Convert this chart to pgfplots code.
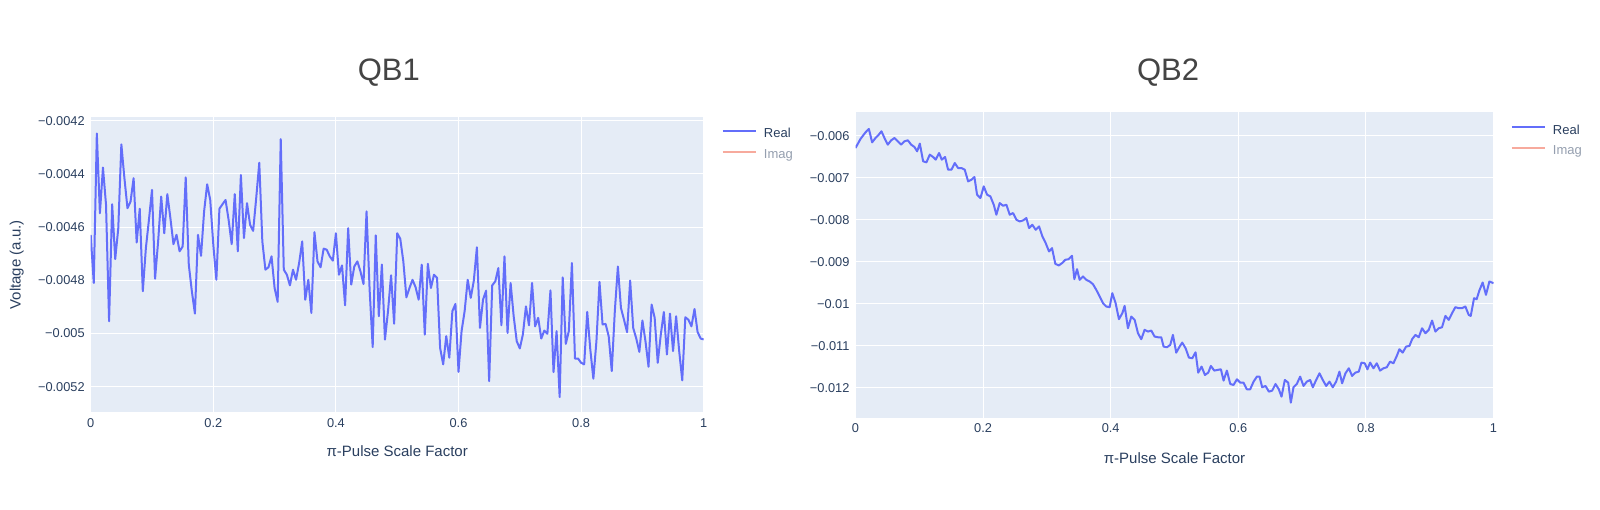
\documentclass[border=0pt]{standalone}
\usepackage{pgfplots}
\pgfplotsset{compat=1.18}
\usepackage{fontspec}
\setmainfont{Liberation Sans}

\definecolor{bgplot}{HTML}{E5ECF6}
\definecolor{realc}{HTML}{636EFA}
\definecolor{imagc}{HTML}{F7AA9D}
\definecolor{fontc}{HTML}{2A3F5F}
\definecolor{fadec}{HTML}{959FAF}
\definecolor{titlec}{HTML}{444444}

% QB1: pi-pulse scan, real part
\pgfplotstableread{
x y
0.000 -0.004629
0.005 -0.004810
0.010 -0.004248
0.015 -0.004548
0.020 -0.004376
0.025 -0.004516
0.030 -0.004954
0.035 -0.004514
0.040 -0.004720
0.045 -0.004604
0.050 -0.004289
0.055 -0.004416
0.060 -0.004529
0.065 -0.004504
0.070 -0.004416
0.075 -0.004658
0.080 -0.004531
0.085 -0.004841
0.090 -0.004679
0.095 -0.004573
0.100 -0.004460
0.105 -0.004794
0.110 -0.004654
0.115 -0.004485
0.120 -0.004623
0.125 -0.004476
0.130 -0.004566
0.135 -0.004664
0.140 -0.004629
0.145 -0.004691
0.150 -0.004673
0.155 -0.004413
0.160 -0.004741
0.165 -0.004841
0.170 -0.004925
0.175 -0.004629
0.180 -0.004708
0.185 -0.004541
0.190 -0.004439
0.195 -0.004498
0.200 -0.004666
0.205 -0.004798
0.210 -0.004531
0.215 -0.004514
0.220 -0.004498
0.225 -0.004573
0.230 -0.004664
0.235 -0.004476
0.240 -0.004691
0.245 -0.004404
0.250 -0.004641
0.255 -0.004510
0.260 -0.004591
0.265 -0.004614
0.270 -0.004491
0.275 -0.004358
0.280 -0.004654
0.285 -0.004760
0.290 -0.004751
0.295 -0.004710
0.300 -0.004829
0.305 -0.004881
0.310 -0.004269
0.315 -0.004760
0.320 -0.004779
0.325 -0.004819
0.330 -0.004760
0.335 -0.004798
0.340 -0.004735
0.345 -0.004654
0.350 -0.004873
0.355 -0.004798
0.360 -0.004923
0.365 -0.004619
0.370 -0.004729
0.375 -0.004751
0.380 -0.004681
0.385 -0.004685
0.390 -0.004710
0.395 -0.004726
0.400 -0.004623
0.405 -0.004779
0.410 -0.004744
0.415 -0.004894
0.420 -0.004604
0.425 -0.004816
0.430 -0.004748
0.435 -0.004729
0.440 -0.004766
0.445 -0.004814
0.450 -0.004541
0.455 -0.004835
0.460 -0.005051
0.465 -0.004631
0.470 -0.004935
0.475 -0.004741
0.480 -0.005023
0.485 -0.004916
0.490 -0.004781
0.495 -0.004963
0.500 -0.004623
0.505 -0.004644
0.510 -0.004729
0.515 -0.004864
0.520 -0.004829
0.525 -0.004798
0.530 -0.004826
0.535 -0.004873
0.540 -0.004741
0.545 -0.005004
0.550 -0.004738
0.555 -0.004829
0.560 -0.004779
0.565 -0.004791
0.570 -0.005054
0.575 -0.005116
0.580 -0.005010
0.585 -0.005091
0.590 -0.004916
0.595 -0.004889
0.600 -0.005144
0.605 -0.004991
0.610 -0.004916
0.615 -0.004798
0.620 -0.004866
0.625 -0.004801
0.630 -0.004676
0.635 -0.004979
0.640 -0.004873
0.645 -0.004839
0.650 -0.005179
0.655 -0.004819
0.660 -0.004804
0.665 -0.004754
0.670 -0.004969
0.675 -0.004710
0.680 -0.004998
0.685 -0.004810
0.690 -0.004935
0.695 -0.005029
0.700 -0.005056
0.705 -0.005004
0.710 -0.004898
0.715 -0.004969
0.720 -0.004810
0.725 -0.004973
0.730 -0.004941
0.735 -0.005019
0.740 -0.004989
0.745 -0.005001
0.750 -0.004838
0.755 -0.005145
0.760 -0.004991
0.765 -0.005239
0.770 -0.004789
0.775 -0.005039
0.780 -0.004991
0.785 -0.004735
0.790 -0.005094
0.795 -0.005094
0.800 -0.005110
0.805 -0.005116
0.810 -0.004919
0.815 -0.005060
0.820 -0.005170
0.825 -0.005029
0.830 -0.004806
0.835 -0.004966
0.840 -0.004964
0.845 -0.005010
0.850 -0.005141
0.855 -0.004916
0.860 -0.004748
0.865 -0.004904
0.870 -0.004948
0.875 -0.004995
0.880 -0.004801
0.885 -0.004979
0.890 -0.005019
0.895 -0.005069
0.900 -0.004951
0.905 -0.005029
0.910 -0.005125
0.915 -0.004891
0.920 -0.004941
0.925 -0.005110
0.930 -0.005004
0.935 -0.004919
0.940 -0.005079
0.945 -0.004925
0.950 -0.005066
0.955 -0.004935
0.960 -0.005066
0.965 -0.005176
0.970 -0.004939
0.975 -0.004948
0.980 -0.004973
0.985 -0.004908
0.990 -0.004994
0.995 -0.005019
1.000 -0.005022
}\qbone

% QB2: pi-pulse scan, real part
\pgfplotstableread{
x y
0.0000 -0.006294
0.0078 -0.006079
0.0157 -0.005921
0.0209 -0.005841
0.0261 -0.006159
0.0313 -0.006056
0.0365 -0.005976
0.0407 -0.005897
0.0454 -0.006056
0.0506 -0.006214
0.0559 -0.006111
0.0611 -0.006056
0.0663 -0.006135
0.0715 -0.006214
0.0767 -0.006135
0.0820 -0.006111
0.0872 -0.006214
0.0924 -0.006270
0.0966 -0.006373
0.1008 -0.006190
0.1060 -0.006611
0.1112 -0.006635
0.1164 -0.006452
0.1216 -0.006508
0.1258 -0.006571
0.1310 -0.006413
0.1352 -0.006571
0.1404 -0.006508
0.1451 -0.006810
0.1504 -0.006810
0.1556 -0.006651
0.1608 -0.006770
0.1660 -0.006770
0.1712 -0.006810
0.1765 -0.007087
0.1817 -0.007048
0.1864 -0.006984
0.1905 -0.007405
0.1958 -0.007484
0.2010 -0.007206
0.2062 -0.007405
0.2114 -0.007444
0.2167 -0.007643
0.2208 -0.007881
0.2260 -0.007603
0.2313 -0.007667
0.2365 -0.007643
0.2417 -0.007881
0.2469 -0.007841
0.2522 -0.008000
0.2574 -0.008040
0.2626 -0.008016
0.2678 -0.007960
0.2720 -0.008198
0.2772 -0.008119
0.2824 -0.008238
0.2877 -0.008159
0.2929 -0.008397
0.2981 -0.008556
0.3033 -0.008754
0.3080 -0.008675
0.3132 -0.009048
0.3185 -0.009087
0.3237 -0.009032
0.3289 -0.008952
0.3341 -0.008937
0.3393 -0.008857
0.3430 -0.009413
0.3472 -0.009175
0.3513 -0.009429
0.3566 -0.009349
0.3618 -0.009429
0.3670 -0.009468
0.3722 -0.009532
0.3774 -0.009667
0.3827 -0.009825
0.3879 -0.009984
0.3931 -0.010063
0.3983 -0.010079
0.4025 -0.009746
0.4077 -0.009984
0.4129 -0.010365
0.4182 -0.010222
0.4218 -0.010048
0.4270 -0.010580
0.4323 -0.010302
0.4375 -0.010381
0.4427 -0.010698
0.4479 -0.010841
0.4531 -0.010619
0.4584 -0.010659
0.4636 -0.010635
0.4688 -0.010778
0.4740 -0.010794
0.4792 -0.010794
0.4829 -0.011016
0.4881 -0.011032
0.4933 -0.010976
0.4975 -0.010738
0.5027 -0.011159
0.5080 -0.011016
0.5121 -0.010921
0.5174 -0.011056
0.5226 -0.011278
0.5278 -0.011294
0.5330 -0.011151
0.5372 -0.011635
0.5424 -0.011492
0.5477 -0.011691
0.5529 -0.011635
0.5570 -0.011476
0.5623 -0.011587
0.5675 -0.011571
0.5727 -0.011556
0.5769 -0.011825
0.5821 -0.011587
0.5873 -0.011905
0.5925 -0.011929
0.5978 -0.011794
0.6030 -0.011873
0.6082 -0.011873
0.6134 -0.012032
0.6186 -0.012032
0.6239 -0.011849
0.6291 -0.011730
0.6333 -0.011730
0.6374 -0.011984
0.6427 -0.011952
0.6479 -0.012087
0.6531 -0.012063
0.6583 -0.011905
0.6635 -0.012032
0.6677 -0.012206
0.6729 -0.011810
0.6782 -0.011873
0.6823 -0.012349
0.6865 -0.011984
0.6917 -0.011905
0.6969 -0.011730
0.7022 -0.011952
0.7074 -0.011849
0.7126 -0.011810
0.7168 -0.011984
0.7220 -0.011810
0.7272 -0.011651
0.7324 -0.011810
0.7377 -0.011952
0.7429 -0.011849
0.7481 -0.011984
0.7533 -0.011849
0.7585 -0.011611
0.7627 -0.011889
0.7679 -0.011651
0.7732 -0.011532
0.7784 -0.011714
0.7836 -0.011635
0.7888 -0.011611
0.7930 -0.011397
0.7982 -0.011413
0.8024 -0.011556
0.8066 -0.011397
0.8118 -0.011532
0.8170 -0.011413
0.8222 -0.011587
0.8275 -0.011532
0.8327 -0.011508
0.8379 -0.011373
0.8431 -0.011413
0.8484 -0.011238
0.8525 -0.011079
0.8577 -0.011159
0.8630 -0.011016
0.8682 -0.011000
0.8724 -0.010841
0.8776 -0.010738
0.8828 -0.010794
0.8880 -0.010580
0.8932 -0.010698
0.8985 -0.010619
0.9037 -0.010397
0.9089 -0.010659
0.9141 -0.010580
0.9193 -0.010556
0.9246 -0.010286
0.9298 -0.010381
0.9350 -0.010222
0.9402 -0.010079
0.9454 -0.010103
0.9507 -0.010103
0.9559 -0.010063
0.9611 -0.010262
0.9643 -0.010286
0.9695 -0.009865
0.9736 -0.009889
0.9778 -0.009683
0.9830 -0.009492
0.9882 -0.009786
0.9935 -0.009468
1.0000 -0.009508
}\qbtwo

\pgfplotsset{
  qbaxis/.style={
    scale only axis,
    axis background/.style={fill=bgplot},
    axis line style={draw=none},
    major tick length=0pt,
    grid=major,
    major grid style={white, line width=1pt},
    xmin=0, xmax=1,
    xtick={0,0.2,0.4,0.6,0.8,1},
    xticklabels={0,0.2,0.4,0.6,0.8,1},
    scaled y ticks=false,
    tick label style={font=\fontsize{12.8}{14}\selectfont, text=fontc},
    xticklabel style={anchor=center, yshift=-10.4pt},
    yticklabel style={anchor=east, xshift=-2.5pt},
    label style={font=\fontsize{15}{17}\selectfont, text=fontc},
    xlabel={π-Pulse Scale Factor},
    legend cell align=left,
    legend image code/.code={\draw[#1] (0pt,3.5pt) -- (33pt,3.5pt);},
    legend style={draw=none, fill=none, inner sep=0pt, column sep=7pt, row sep=9pt,
      font=\fontsize{13}{15}\selectfont, text=fontc, anchor=north west,
      nodes={inner sep=0pt, text height=9.3pt, text depth=2.5pt}},
  },
  realline/.style={realc, line width=2pt, line join=round},
}

\begin{document}
\begin{tikzpicture}
\path[use as bounding box, fill=white] (0pt,0pt) rectangle (1600pt,509pt);

\begin{axis}[qbaxis,
  at={(90.7pt,96.7pt)}, anchor=south west,
  width=613pt, height=295pt,
  ymin=-0.0052962, ymax=-0.0041872,
  ytick={-0.0052,-0.005,-0.0048,-0.0046,-0.0044,-0.0042},
  yticklabels={−0.0052,−0.005,−0.0048,−0.0046,−0.0044,−0.0042},
  xlabel style={anchor=center, at={(axis description cs:0.5,-0.1312)}},
  ylabel={Voltage (a.u.)},
  ylabel style={anchor=center, at={(axis description cs:-0.1207,0.5)}},
  legend style={at={(axis description cs:1.0294,0.9627)}},
]
\addplot[realline] table[x=x, y=y] {\qbone};
\addlegendentry{Real}
\addlegendimage{imagc, line width=2pt}
\addlegendentry{\textcolor{fadec}{Imag}}
\end{axis}

\begin{axis}[qbaxis,
  at={(855.5pt,91.3pt)}, anchor=south west,
  width=638pt, height=305.4pt,
  ymin=-0.012707, ymax=-0.005445,
  ytick={-0.012,-0.011,-0.01,-0.009,-0.008,-0.007,-0.006},
  yticklabels={−0.012,−0.011,−0.01,−0.009,−0.008,−0.007,−0.006},
  xlabel style={anchor=center, at={(axis description cs:0.5,-0.132)}},
  legend style={at={(axis description cs:1.027,0.9596)}},
]
\addplot[realline] table[x=x, y=y] {\qbtwo};
\addlegendentry{Real}
\addlegendimage{imagc, line width=2pt}
\addlegendentry{\textcolor{fadec}{Imag}}
\end{axis}

\node[anchor=base, font=\fontsize{31}{31}\selectfont, text=titlec] at (388.8pt,428pt) {QB1};
\node[anchor=base, font=\fontsize{31}{31}\selectfont, text=titlec] at (1168pt,428pt) {QB2};
\end{tikzpicture}
\end{document}
